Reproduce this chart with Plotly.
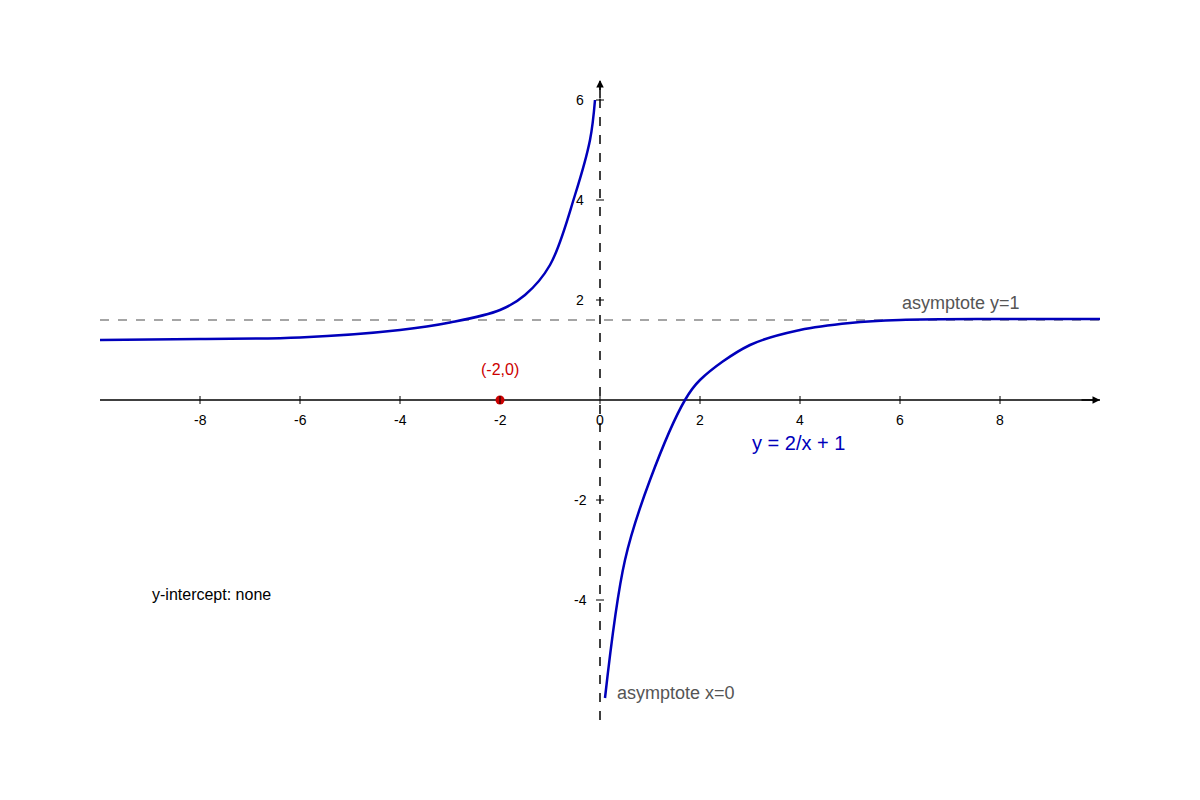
import plotly.graph_objects as go

left_x = [-10, -8, -6, -4, -3, -2, -1.5, -1, -0.5, -0.2, -0.1]
left_y = [1.2, 1.22, 1.25, 1.4, 1.55, 1.8, 2.1, 2.7, 4.1, 5.2, 6.0]
right_x = [0.1, 0.5, 1, 1.7, 2, 3, 4, 5, 6, 8, 10]
right_y = [-5.96, -3.2, -1.6, 0.0, 0.4, 1.1, 1.4, 1.54, 1.6, 1.62, 1.62]
asym_y = 1.6
xticks = [-8, -6, -4, -2, 0, 2, 4, 6, 8]
yticks = [-4, -2, 2, 4, 6]
point = (-2, 0)

fig = go.Figure()
fig.add_trace(go.Scatter(x=[-10, 10], y=[asym_y, asym_y], mode="lines",
                         line=dict(color="#888", width=1.5, dash="dash")))
fig.add_trace(go.Scatter(x=[-10, 10], y=[0, 0], mode="lines", line=dict(color="black", width=1.5)))
fig.add_trace(go.Scatter(x=[0, 0], y=[-6.4, 6.4], mode="lines", line=dict(color="black", width=1.5, dash="dash")))
for xs, ys in [(left_x, left_y), (right_x, right_y)]:
    fig.add_trace(go.Scatter(x=xs, y=ys, mode="lines", line=dict(color="#0000bb", width=2.5, shape="spline")))
fig.add_trace(go.Scatter(x=[point[0]], y=[point[1]], mode="markers", marker=dict(color="#cc0000", size=9)))

for t in xticks:
    fig.add_shape(type="line", x0=t, x1=t, y0=-0.08, y1=0.08, line=dict(color="black", width=1))
    fig.add_annotation(x=t, y=-0.4, text=str(t), showarrow=False, font=dict(size=14, color="black"))
for t in yticks:
    fig.add_shape(type="line", x0=-0.08, x1=0.08, y0=t, y1=t, line=dict(color="black", width=1))
    fig.add_annotation(x=-0.4, y=t, text=str(t), showarrow=False, font=dict(size=14, color="black"))

fig.add_annotation(x=10, y=0, ax=9.6, ay=0, axref="x", ayref="y", showarrow=True, arrowhead=2,
                   arrowsize=1, arrowwidth=1.5, arrowcolor="black", text="")
fig.add_annotation(x=0, y=6.4, ax=0, ay=6.0, axref="x", ayref="y", showarrow=True, arrowhead=2,
                   arrowsize=1, arrowwidth=1.5, arrowcolor="black", text="")

def txt(x, y, s, size, color, xanchor="center"):
    fig.add_annotation(x=x, y=y, text=s, showarrow=False, xanchor=xanchor,
                       font=dict(size=size, color=color))

txt(0.2, 6.64, "y-axis", 20, "black", "left")
txt(10.2, 0.04, "x-axis", 20, "black", "left")
txt(6.0, 1.94, "asymptote y=1", 18, "#555", "left")
txt(0.3, -5.86, "asymptote x=0", 18, "#555", "left")
txt(3.0, -0.86, "y = 2/x + 1", 20, "#0000bb", "left")
txt(-2, 0.62, "(-2,0)", 16, "#cc0000")
txt(-9.0, -3.88, "y-intercept: none", 16, "black", "left")

fig.update_layout(width=1200, height=800, showlegend=False, plot_bgcolor="white", paper_bgcolor="white",
                  margin=dict(l=92, r=108, t=72, b=88),
                  font=dict(family="Liberation Sans, Arial, sans-serif"),
                  xaxis=dict(range=[-10, 10], visible=False),
                  yaxis=dict(range=[-6.4, 6.4], visible=False))
fig.write_html("out.html")
